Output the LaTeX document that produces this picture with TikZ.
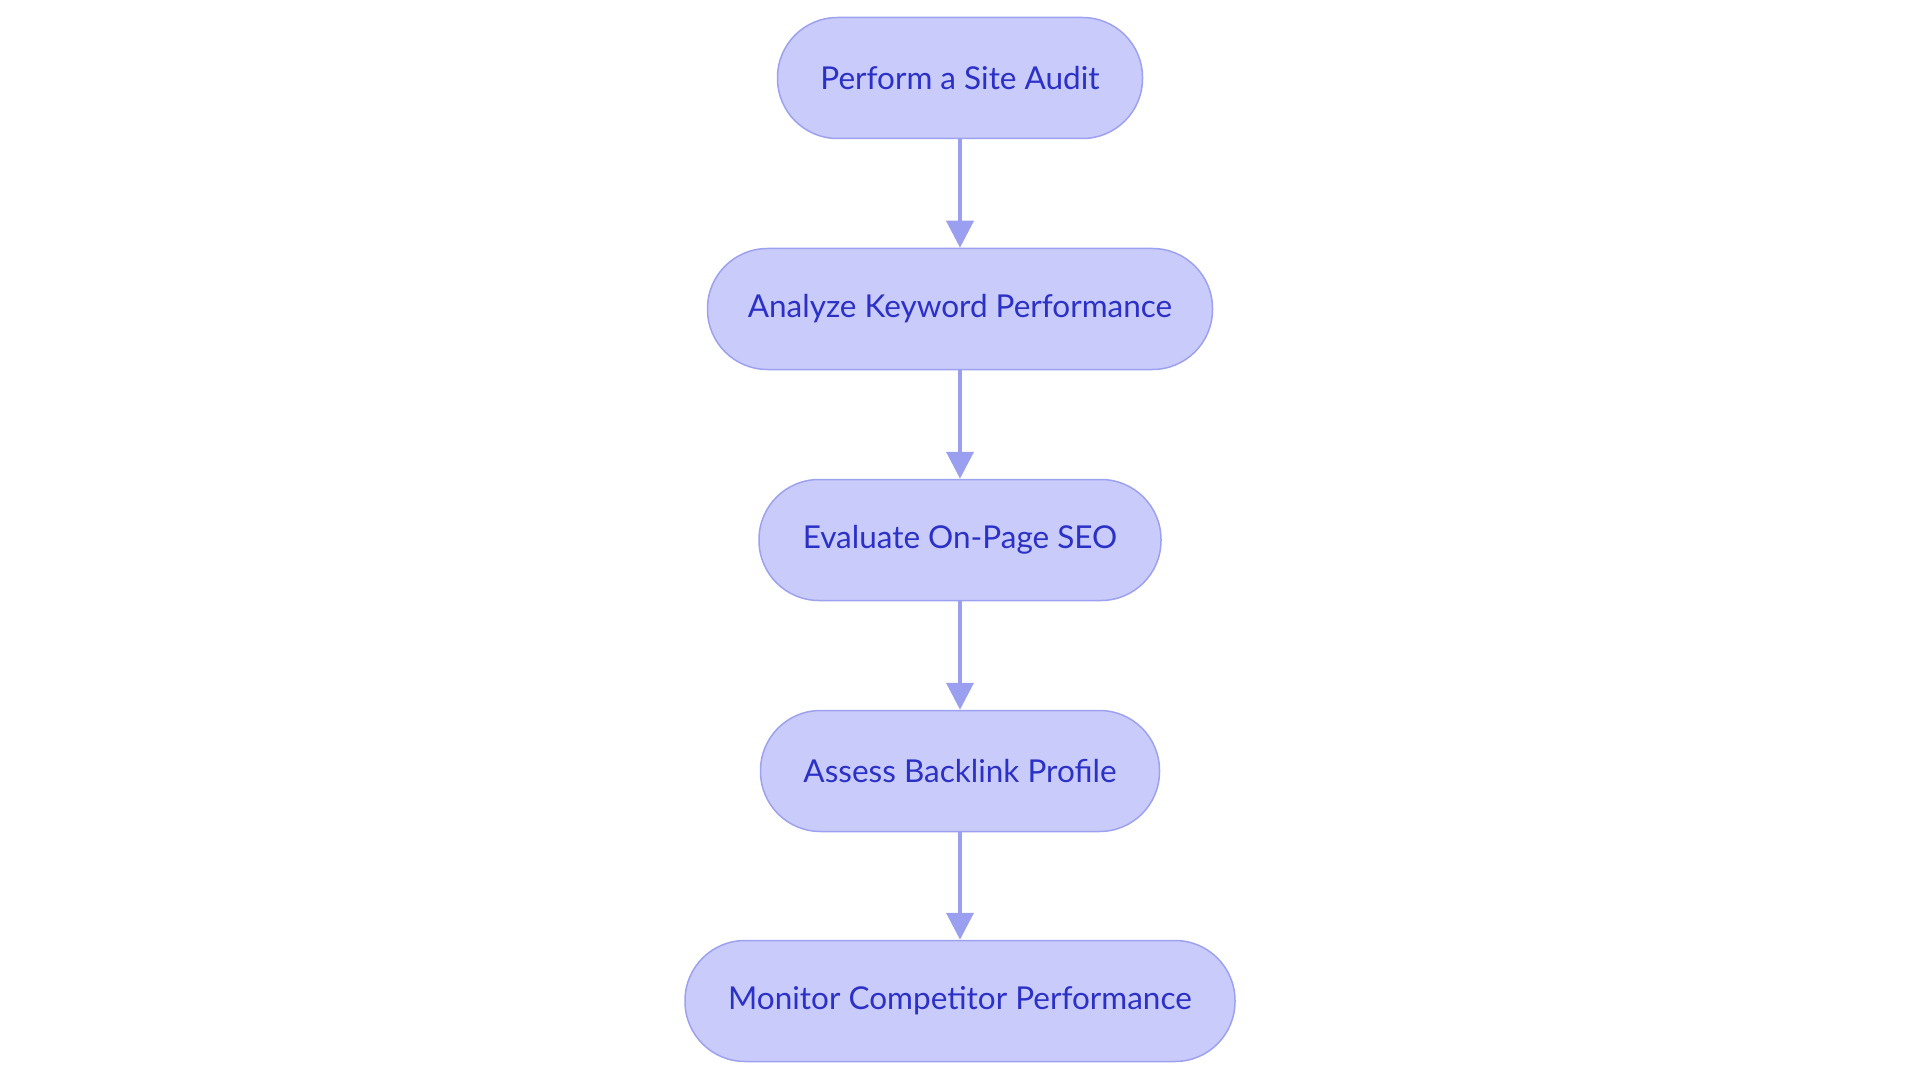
\documentclass[tikz,border=0pt]{standalone}
\usepackage{fontspec}
\setmainfont{Lato}
\usetikzlibrary{arrows.meta}
\definecolor{nodefill}{HTML}{C9CBFB}
\definecolor{nodeline}{HTML}{9DA2F0}
\definecolor{nodetext}{HTML}{2B31C6}
\definecolor{arrowcol}{HTML}{9AA0EF}
\tikzset{
  stepbox/.style={draw=nodeline, line width=1.5pt, fill=nodefill, text=nodetext,
    rounded corners=60pt, minimum height=121pt, inner sep=0pt,
    font=\fontsize{31.5pt}{36pt}\selectfont},
  flow/.style={draw=arrowcol, line width=4pt, -{Triangle[width=27pt,length=27pt]}}
}
\begin{document}
\begin{tikzpicture}[x=1pt,y=-1pt]
\useasboundingbox (0,0) rectangle (1920,1083);
\node[stepbox, minimum width=365pt] (a) at (960,78) {Perform a Site Audit};
\node[stepbox, minimum width=505pt] (b) at (960,309) {Analyze Keyword Performance};
\node[stepbox, minimum width=402pt] (c) at (960,540) {Evaluate On-Page SEO};
\node[stepbox, minimum width=399pt] (d) at (960,771) {Assess Backlink Profile};
\node[stepbox, minimum width=550pt] (e) at (960,1001) {Monitor Competitor Performance};
\draw[flow] (a) -- (b);
\draw[flow] (b) -- (c);
\draw[flow] (c) -- (d);
\draw[flow] (d) -- (e);
\end{tikzpicture}
\end{document}
